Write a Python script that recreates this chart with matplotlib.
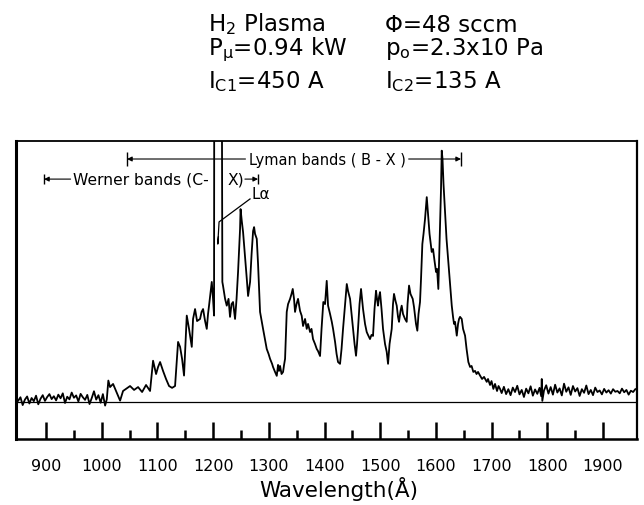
import matplotlib.pyplot as plt

# VUV emission spectrum of an H2 plasma (relative intensity, baseline = 0)
wavelength = [
    850, 854, 858, 862, 866, 870, 874, 878, 882, 886, 890, 894, 898, 902, 906,
    910, 914, 918, 922, 926, 930, 934, 938, 942, 946, 950, 954, 958, 962, 966,
    970, 974, 978, 982, 986, 990, 994, 998, 1002, 1006, 1009,
    1011.8, 1014.9, 1020.3, 1025.7, 1032.9, 1038.2, 1043.6, 1050.8, 1058.0,
    1065.2, 1072.4, 1079.5, 1086.7, 1092.1, 1097.5, 1101.1, 1104.7, 1110.0,
    1115.4, 1120.8, 1126.2, 1131.6, 1137.0, 1140.6, 1144.2, 1147.7, 1152.6,
    1156.7, 1161.6, 1163.9, 1167.5, 1171.1, 1176.5, 1179.2, 1181.9, 1185.5,
    1188.5, 1190.8, 1192.6, 1197.5, 1199.8, 1201.6,
    1202.4, 1214.0, 1216.5,
    1217.8, 1221.4, 1224.4, 1227.6, 1230.3, 1233.0, 1235.7, 1239.3, 1242.0,
    1244.7, 1248.3, 1249.2, 1251.4, 1253.7, 1257.3, 1260.4, 1262.7, 1264.5,
    1266.3, 1269.0, 1271.7, 1273.5, 1275.2, 1278.3, 1280.6, 1284.2, 1289.6,
    1296.2, 1299.5, 1302.2, 1305.8, 1307.5, 1311.1, 1314.2, 1316.5, 1318.3,
    1320.1, 1322.8, 1325.5, 1327.3, 1329.1, 1332.1, 1334.5, 1338.1, 1340.7,
    1342.9, 1345.2, 1347.0, 1349.7, 1352.4, 1356.0, 1359.0, 1361.4, 1365.0,
    1368.0, 1370.4, 1374.0, 1376.6, 1379.3, 1382.9, 1386.0, 1388.3, 1391.9,
    1394.6, 1397.8, 1400.9, 1403.9, 1406.3, 1409.9, 1413.0, 1415.3, 1418.9,
    1421.6, 1424.2, 1427.8, 1430.5, 1433.2, 1436.8, 1439.9, 1442.2, 1445.8,
    1448.5, 1451.2, 1453.9, 1456.5, 1458.3, 1460.1, 1462.8, 1465.5, 1467.3,
    1469.1, 1472.7, 1475.7, 1478.0, 1481.6, 1484.3, 1487.0, 1489.7, 1492.4,
    1494.2, 1496.0, 1497.8, 1499.6, 1502.3, 1505.0, 1508.6, 1511.6, 1514.0,
    1516.7, 1520.6, 1522.9, 1524.7, 1527.4, 1529.6, 1531.9, 1533.7, 1536.4,
    1538.5, 1540.9, 1544.5, 1547.5, 1549.0, 1551.7, 1554.3, 1558.3, 1560.6,
    1562.4, 1564.2, 1566.6, 1568.7, 1571.4, 1573.2, 1575.6, 1577.7, 1580.4,
    1583.5, 1585.8, 1588.5, 1592.4, 1594.8, 1597.5, 1600.2, 1602.0, 1604.3,
    1607.3, 1609.1, 1610.4, 1611.8, 1613.6, 1616.3, 1619.0, 1622.3, 1625.3,
    1628.4, 1630.7, 1632.5, 1634.3, 1637.4, 1639.7, 1641.5, 1643.3, 1646.3,
    1648.7, 1652.3, 1655.0, 1658.2, 1661.3, 1664.0, 1667.1, 1670.2, 1672.9,
    1675.6, 1679.2, 1682.8, 1686.4, 1691.2, 1693.5, 1697.1, 1699.8, 1703.1,
    1706.1, 1709.7, 1712.4, 1715.1,
    1718, 1722, 1726, 1730, 1734, 1738, 1742, 1746, 1750, 1754, 1758, 1762,
    1766, 1770, 1774, 1778, 1782, 1786, 1789, 1790, 1791, 1794, 1798, 1802,
    1806, 1810, 1814, 1818, 1822, 1826, 1830, 1834, 1838, 1842, 1846, 1850,
    1854, 1858, 1862, 1866, 1870, 1874, 1878, 1882, 1886, 1890, 1894, 1898,
    1902, 1906, 1910, 1914, 1918, 1922, 1926, 1930, 1934, 1938, 1942, 1946,
    1950, 1954, 1958,
]
intensity = [
    0.5, 1.8, -1.2, 0.9, 2.1, -0.6, 1.5, 0.3, 2.4, -0.9, 1.2, 2.6, 0.4, 1.9, 3.0,
    1.1, 2.2, 0.6, 2.8, 1.4, 3.3, -0.4, 2.0, 1.0, 3.6, 1.6, 2.5, 0.2, 3.1, 1.8,
    0.8, 2.7, -0.8, 1.5, 4.1, 0.9, 2.6, -0.3, 3.0, -1.4, 1.0,
    8.2, 5.7, 6.9, 4.2, 0.5, 4.2, 5.0, 6.1, 4.6,
    5.7, 3.8, 6.5, 4.2, 15.8, 10.7, 13.4, 15.3, 11.9,
    8.8, 6.1, 5.4, 6.1, 23.0, 21.1, 16.5, 10.1, 33.1,
    28.0, 21.1, 31.8, 35.6, 31.0, 31.8, 34.5, 35.6, 31.0,
    28.0, 33.7, 36.9, 46.0, 39.5, 33.1,
    260.0, 260.0, 46.0,
    44.4, 39.5, 36.9, 39.5, 32.6, 37.5, 38.3, 31.8, 39.5,
    49.8, 66.3, 73.9, 69.3, 65.1, 55.6, 47.1, 40.6, 43.3,
    46.0, 56.7, 65.5, 67.0, 64.4, 62.5, 52.9, 34.5, 28.0,
    20.3, 18.4, 16.5, 14.6, 13.4, 11.5, 10.0, 14.2, 11.9,
    13.8, 10.7, 11.5, 14.2, 16.5, 34.5, 37.5, 39.5, 41.4,
    43.3, 39.5, 34.5, 37.5, 39.5, 34.9, 33.0, 29.1, 31.8,
    28.0, 29.9, 26.8, 28.0, 24.1, 22.2, 20.3, 19.5, 17.6,
    28.0, 38.3, 37.5, 46.4, 36.9, 33.7, 30.7, 28.0, 23.0,
    18.4, 15.3, 14.6, 20.3, 28.0, 37.5, 45.2, 42.5, 39.5,
    33.7, 28.0, 22.2, 17.7, 22.2, 28.0, 37.5, 43.3, 39.5,
    35.6, 29.9, 26.8, 25.7, 24.1, 25.7, 25.3, 35.6, 42.6,
    39.5, 36.9, 40.2, 42.1, 35.6, 28.0, 22.2, 19.2, 14.6,
    22.2, 28.0, 37.5, 41.4, 38.7, 36.9, 32.6, 30.7, 34.9,
    36.9, 33.7, 31.8, 30.7, 37.5, 44.6, 41.4, 39.5, 36.4,
    33.1, 29.9, 27.3, 33.7, 38.3, 47.1, 60.5, 64.4, 70.1,
    78.5, 72.0, 64.4, 57.5, 58.6, 54.0, 49.8, 51.0, 43.3,
    66.3, 81.6, 96.3, 93.1, 83.5, 72.8, 62.5, 53.6, 45.2,
    36.9, 32.6, 29.9, 30.7, 25.4, 29.9, 31.8, 32.6, 31.8,
    28.0, 25.4, 20.3, 15.3, 13.4, 13.8, 11.5, 11.9, 10.7,
    11.5, 10.1, 8.8, 9.6, 7.7, 8.8, 6.5, 8.0, 5.0,
    6.9, 4.2, 6.1, 5.0,
    3.4, 5.8, 3.0, 4.9, 2.6, 5.5, 3.8, 6.2, 2.9, 4.6, 1.9, 5.1,
    3.3, 6.0, 2.4, 4.8, 3.1, 5.4, 2.2, 8.8, 0.4, 4.4, 6.4, 3.2,
    5.7, 2.8, 6.6, 3.6, 5.2, 2.5, 7.0, 3.9, 5.6, 2.7, 6.1, 4.0,
    5.3, 2.3, 4.9, 3.5, 6.3, 3.0, 4.6, 2.6, 5.5, 3.8, 4.4, 2.9,
    5.0, 3.6, 4.5, 3.2, 4.9, 3.9, 4.2, 3.3, 5.1, 3.7, 4.6, 2.8,
    4.3, 3.8, 4.9,
]

major_ticks = [900, 1000, 1100, 1200, 1300, 1400, 1500, 1600, 1700, 1800, 1900]
minor_ticks = [950, 1050, 1150, 1250, 1350, 1450, 1550, 1650, 1750, 1850]

# band ranges (left end, right end) in Angstrom
lyman_range = (1045.4, 1645.0)
werner_range = (896.4, 1280.6)

header_left = [r'H$_2$ Plasma', r'P$_\mathregular{μ}$=0.94 kW', r'I$_{\mathregular{C1}}$=450 A']
header_right = ['Φ=48 sccm', r'p$_\mathregular{o}$=2.3x10 Pa', r'I$_{\mathregular{C2}}$=135 A']

fig = plt.figure(figsize=(6.44, 5.06), dpi=100)
ax = fig.add_axes([16 / 644, 66 / 506, 621 / 644, 298 / 506])

ax.plot(wavelength, intensity, color='black', lw=1.3)
ax.axhline(0, color='black', lw=0.9)

ax.set_xlim(846, 1961)
ax.set_ylim(-14.2, 100)
ax.set_yticks([])
ax.set_xticks(major_ticks)
ax.set_xticks(minor_ticks, minor=True)
ax.tick_params(axis='x', which='major', direction='in', length=12, width=1.8,
               pad=14, labelsize=11.5)
ax.tick_params(axis='x', which='minor', direction='in', length=6.5, width=1.8)
for side, w in [('left', 2.2), ('right', 1.6), ('bottom', 1.8), ('top', 1.3)]:
    ax.spines[side].set_linewidth(w)

arrow = dict(arrowstyle='-|>', lw=0.8, color='black', mutation_scale=7,
             shrinkA=0, shrinkB=0)

# Lyman bands (B-X)
y_ly = 93.1
ax.vlines(lyman_range, y_ly - 2.8, y_ly + 2.8, color='black', lw=1.0)
ax.annotate('', xy=(lyman_range[0], y_ly), xytext=(1258, y_ly), arrowprops=arrow)
ax.annotate('', xy=(lyman_range[1], y_ly), xytext=(1551, y_ly), arrowprops=arrow)
ax.text(1404.5, y_ly, 'Lyman bands ( B - X )', ha='center', va='center',
        fontsize=10.5)

# Werner bands (C-X)
y_we = 85.4
ax.vlines(werner_range, y_we - 2.0, y_we + 2.0, color='black', lw=1.0)
ax.annotate('', xy=(werner_range[0], y_we), xytext=(944, y_we), arrowprops=arrow)
ax.annotate('', xy=(werner_range[1], y_we), xytext=(1257, y_we), arrowprops=arrow)
ax.text(948.5, y_we, 'Werner bands (C-', ha='left', va='center', fontsize=11.2)
ax.text(1226.7, y_we, 'X)', ha='left', va='center', fontsize=11.2)

# Lyman alpha pointer
ax.plot([1266.2, 1210.6, 1208.3, 1209.4], [77.8, 69.0, 60.5, 63.2],
        color='black', lw=0.9)
ax.text(1268, 79.8, 'Lα', ha='left', va='center', fontsize=11)

fig.text(339 / 644, (506 - 497) / 506, 'Wavelength(Å)', ha='center',
         va='baseline', fontsize=15.5)

for i, (l, r) in enumerate(zip(header_left, header_right)):
    yb = 1 - [31.5, 55, 88][i] / 506
    fig.text(208 / 644, yb, l, ha='left', va='baseline', fontsize=16.5)
    fig.text(385 / 644, yb, r, ha='left', va='baseline', fontsize=16.5)

fig.savefig('out.png', dpi=100)
